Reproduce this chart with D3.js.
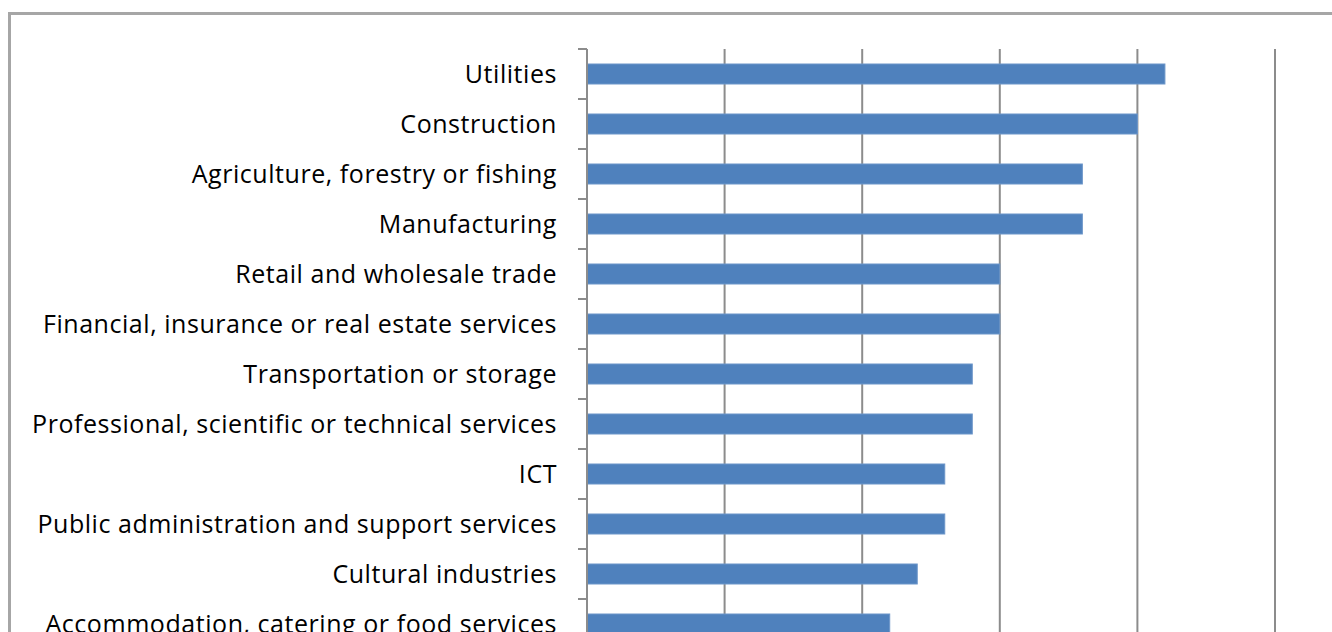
<!DOCTYPE html>
<html><head><meta charset="utf-8">
<script src="https://cdn.jsdelivr.net/npm/d3@7"></script>
<style>html,body{margin:0;padding:0;background:#fff;overflow:hidden}</style>
</head><body>
<svg id="c" width="1332" height="632"></svg>
<script>
const categories = [
  "Utilities",
  "Construction",
  "Agriculture, forestry or fishing",
  "Manufacturing",
  "Retail and wholesale trade",
  "Financial, insurance or real estate services",
  "Transportation or storage",
  "Professional, scientific or technical services",
  "ICT",
  "Public administration and support services",
  "Cultural industries",
  "Accommodation, catering or food services"
];
const values = [21, 20, 18, 18, 15, 15, 14, 14, 13, 13, 12, 11];
const xTicks = [0, 5, 10, 15, 20, 25];

const svg = d3.select("#c");
// outer chart frame
svg.append("rect").attr("x", 9.5).attr("y", 13.5).attr("width", 1400).attr("height", 800)
  .attr("fill", "none").attr("stroke", "#a6a6a6").attr("stroke-width", 3);

const x = d3.scaleLinear().domain([0, 25]).range([587, 1275]);
const y = d3.scaleBand().domain(categories).range([49, 649]).paddingInner(0.6).paddingOuter(0.3);

// gridlines
svg.append("g").selectAll("line").data(xTicks.slice(1)).join("line")
  .attr("x1", d => x(d)).attr("x2", d => x(d))
  .attr("y1", 49).attr("y2", 649)
  .attr("stroke", "#8c8c8c").attr("stroke-width", 2);

// bars
svg.append("g").selectAll("rect").data(values).join("rect")
  .attr("x", x(0)).attr("y", (d, i) => y(categories[i]))
  .attr("width", d => x(d) - x(0)).attr("height", y.bandwidth())
  .attr("fill", "#4f81bd").attr("stroke", "#6d96c9").attr("stroke-width", 1);

// category axis line
svg.append("line").attr("x1", x(0)).attr("x2", x(0)).attr("y1", 49).attr("y2", 649)
  .attr("stroke", "#8c8c8c").attr("stroke-width", 2);
// tick marks at category boundaries
const bounds = categories.map(c => y(c) - (y.step() - y.bandwidth()) / 2);
bounds.push(649);
svg.append("g").selectAll("line").data(bounds).join("line")
  .attr("x1", x(0) - 9).attr("x2", x(0))
  .attr("y1", d => d).attr("y2", d => d)
  .attr("stroke", "#8c8c8c").attr("stroke-width", 2);

// labels
svg.append("g").selectAll("text").data(categories).join("text")
  .attr("x", 557).attr("y", d => y(d) + y.bandwidth() / 2)
  .attr("dy", "0.35em").attr("text-anchor", "end")
  .attr("font-family", "'Open Sans', sans-serif").attr("font-size", 25)
  .attr("letter-spacing", "0.55px")
  .attr("fill", "#000").text(d => d);
</script>
</body></html>
